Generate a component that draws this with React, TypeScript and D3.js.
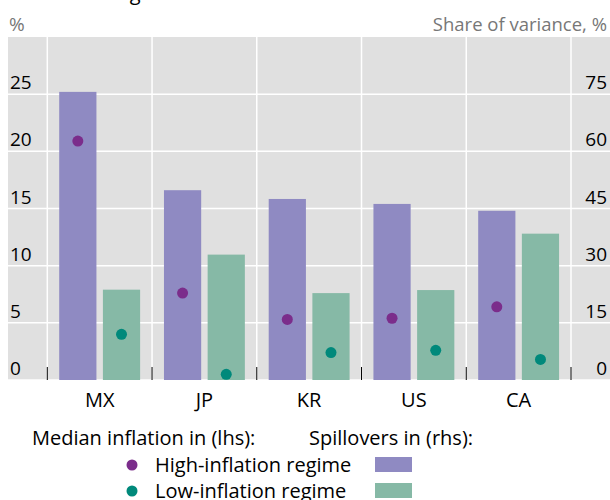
import React from "react";
import * as d3 from "d3";

const countries = ["MX", "JP", "KR", "US", "CA"];
// spillovers, share of variance % (rhs)
const spillHigh = [75.6, 49.8, 47.5, 46.2, 44.4];
const spillLow = [23.7, 32.9, 22.8, 23.6, 38.4];
// median inflation % (lhs)
const inflHigh = [20.9, 7.6, 5.3, 5.4, 6.4];
const inflLow = [4.0, 0.5, 2.4, 2.6, 1.8];

const leftTicks = [0, 5, 10, 15, 20, 25];
const rightTicks = [0, 15, 30, 45, 60, 75];

const W = 610;
const H = 500;
const font = "'Open Sans', 'Noto Sans', sans-serif";

const purpleBar = "#8f8ac2";
const greenBar = "#86b9a6";
const purpleDot = "#7b2d8b";
const greenDot = "#00897b";

const App = () => {
  const top = 37;
  const bottom = 380;
  const x = d3.scaleBand().domain(countries).range([47.3, 571]);
  const inner = d3
    .scaleBand()
    .domain(["high", "low"])
    .range([0, x.bandwidth()])
    .paddingInner(0.148)
    .paddingOuter(0.273);
  const yL = d3.scaleLinear().domain([0, 30]).range([bottom, top]);
  const yR = d3.scaleLinear().domain([0, 90]).range([bottom, top]);

  const edges = countries.map((c) => x(c)!).concat([x.range()[1]]);

  return (
    <svg
      width={W}
      height={H}
      style={{ position: "absolute", left: 0, top: 0, fontFamily: font }}
    >
      {/* title sits mostly above the visible area, as in the source crop */}
      <text x={28} y={0} fontSize={20} fill="#000">
        Inflation regimes
      </text>
      <text x={9} y={31} fontSize={19} fill="#777">
        %
      </text>
      <text x={607} y={31} fontSize={18.5} fill="#777" textAnchor="end">
        Share of variance, %
      </text>

      <rect x={8} y={top} width={W - 8} height={bottom - top} fill="#e0e0e0" />

      {leftTicks.map((t) => (
        <line
          key={"g" + t}
          x1={8}
          x2={W}
          y1={yL(t)}
          y2={yL(t)}
          stroke="#fff"
          strokeWidth={1.5}
        />
      ))}
      {edges.map((e, i) => (
        <line
          key={"v" + i}
          x1={e}
          x2={e}
          y1={top}
          y2={bottom}
          stroke="#fff"
          strokeWidth={1.5}
        />
      ))}

      {countries.map((c, i) => (
        <g key={c}>
          <rect
            x={x(c)! + inner("high")!}
            y={yR(spillHigh[i])}
            width={inner.bandwidth()}
            height={bottom - yR(spillHigh[i])}
            fill={purpleBar}
          />
          <rect
            x={x(c)! + inner("low")!}
            y={yR(spillLow[i])}
            width={inner.bandwidth()}
            height={bottom - yR(spillLow[i])}
            fill={greenBar}
          />
          <circle
            cx={x(c)! + inner("high")! + inner.bandwidth() / 2}
            cy={yL(inflHigh[i])}
            r={5.5}
            fill={purpleDot}
          />
          <circle
            cx={x(c)! + inner("low")! + inner.bandwidth() / 2}
            cy={yL(inflLow[i])}
            r={5.5}
            fill={greenDot}
          />
          <text
            x={x(c)! + x.bandwidth() / 2}
            y={407}
            fontSize={20}
            textAnchor="middle"
          >
            {c}
          </text>
        </g>
      ))}

      {edges.map((e, i) => (
        <line
          key={"t" + i}
          x1={e}
          x2={e}
          y1={bottom - 13}
          y2={bottom}
          stroke="#000"
          strokeWidth={1}
        />
      ))}

      {leftTicks.map((t) => (
        <text key={"l" + t} x={10} y={yL(t) - 5} fontSize={19}>
          {t}
        </text>
      ))}
      {rightTicks.map((t) => (
        <text
          key={"r" + t}
          x={607}
          y={yR(t) - 5}
          fontSize={19}
          textAnchor="end"
        >
          {t}
        </text>
      ))}

      <g fontSize={20}>
        <text x={32} y={445}>
          Median inflation in (lhs):
        </text>
        <text x={309} y={445}>
          Spillovers in (rhs):
        </text>
        <circle cx={132} cy={465} r={5.5} fill={purpleDot} />
        <text x={155} y={472}>
          High-inflation regime
        </text>
        <rect x={375} y={457} width={37} height={15} fill={purpleBar} />
        <circle cx={132} cy={491} r={5.5} fill={greenDot} />
        <text x={155} y={498}>
          Low-inflation regime
        </text>
        <rect x={375} y={483} width={37} height={15} fill={greenBar} />
      </g>
    </svg>
  );
};

export default App;
